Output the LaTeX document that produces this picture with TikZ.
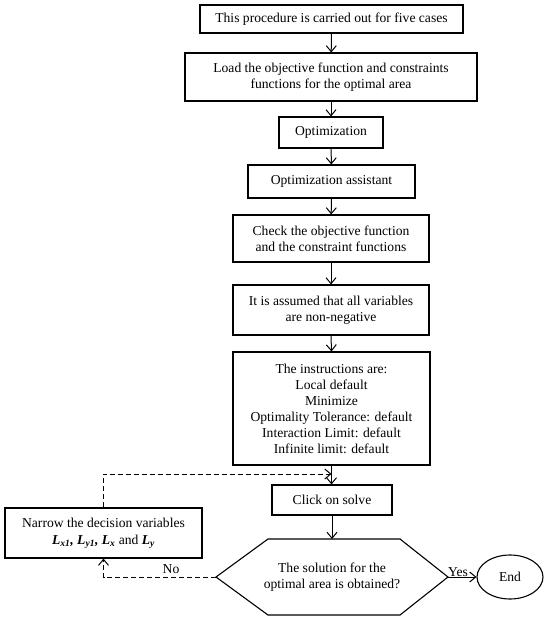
\documentclass[tikz,border=0pt]{standalone}
\usepackage{fontspec}
\setmainfont{Liberation Serif}
\usetikzlibrary{arrows.meta,shapes.geometric}
\begin{document}
\begin{tikzpicture}[x=1pt,y=-1pt,
  box/.style={draw,line width=1.1pt,align=center,inner sep=0pt,font=\fontsize{13.6}{16}\selectfont},
  lbl/.style={font=\fontsize{13.6}{16}\selectfont,inner sep=1pt},
  arr/.style={line width=1pt,-{Straight Barb[length=6pt,width=10pt,line width=1pt]}},
  dsh/.style={dashed,dash pattern=on 5pt off 3pt}]
\useasboundingbox[fill=white] (0,0) rectangle (550,620);
\node[box,minimum width=263pt,minimum height=28pt] (b1) at (331.5,19) {This procedure is carried out for five cases};
\node[box,minimum width=292pt,minimum height=48pt] (b2) at (331,77) {Load the objective function and constraints\\functions for the optimal area};
\node[box,minimum width=104pt,minimum height=31pt] (b3) at (331,132.5) {Optimization};
\node[box,minimum width=167pt,minimum height=33pt] (b4) at (331.5,181.5) {Optimization assistant};
\node[box,minimum width=196pt,minimum height=47pt] (b5) at (331,238.5) {Check the objective function\\and the constraint functions};
\node[box,minimum width=196pt,minimum height=50pt] (b6) at (331,310) {It is assumed that all variables\\are non-negative};
\node[box,minimum width=197pt,minimum height=113pt] (b7) at (331.5,408.5) {The instructions are:\\Local default\\Minimize\\Optimality Tolerance: default\\Interaction Limit: default\\Infinite limit: default};
\node[box,minimum width=120pt,minimum height=30pt] (b8) at (332,500) {Click on solve};
\coordinate (h1) at (216,577);
\coordinate (h2) at (268,539);
\coordinate (h3) at (400,539);
\coordinate (h4) at (448,577);
\coordinate (h5) at (400,615);
\coordinate (h6) at (268,615);
\draw[line width=1.1pt] (h1) -- (h2) -- (h3) -- (h4) -- (h5) -- (h6) -- cycle;
\node[box,draw=none] (dec) at (332,577) {The solution for the\\optimal area is obtained?};
\node[box,ellipse,minimum width=66pt,minimum height=44pt] (end) at (510,577) {End};
\node[box,minimum width=197pt,minimum height=50pt] (nar) at (103.5,533) {Narrow the decision variables\\[1pt]{\bfseries\itshape L\textsubscript{x1}, L\textsubscript{y1}, L\textsubscript{x}} and {\bfseries\itshape L\textsubscript{y}}};
\draw[arr] (b1) -- (b2);
\draw[arr] (b2) -- (b3);
\draw[arr] (b3) -- (b4);
\draw[arr] (b4) -- (b5);
\draw[arr] (b5) -- (b6);
\draw[arr] (b6.south) -- (b7.north);
\draw[arr] (b7.south) -- (b8.north -| b7.south);
\draw[arr] (b8.south) -- (b8.south |- h2);
\draw[arr] (h4) -- (end.west) node[pos=0.35,above=-1pt,lbl] {Yes};
\draw[arr,dsh] (h1) -| (nar.south) node[pos=0.2,above=2pt,lbl] {No};
\draw[arr,dsh] (nar.north) |- (331.5,474);
\end{tikzpicture}
\end{document}
